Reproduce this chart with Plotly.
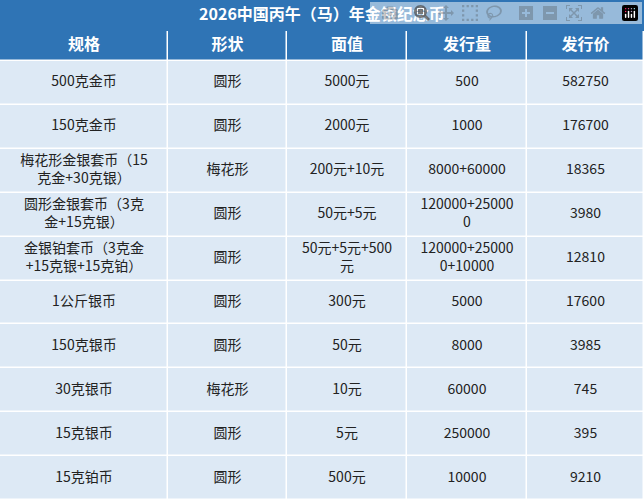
import numpy as np
import plotly.graph_objects as go

title = "2026中国丙午（马）年金银纪念币"
headers = ["规格", "形状", "面值", "发行量", "发行价"]
spec = ["500克金币", "150克金币", "梅花形金银套币（15<br>克金+30克银）", "圆形金银套币（3克<br>金+15克银）",
        "金银铂套币（3克金<br>+15克银+15克铂）", "1公斤银币", "150克银币", "30克银币", "15克银币", "15克铂币"]
shape = ["圆形", "圆形", "梅花形", "圆形", "圆形", "圆形", "圆形", "梅花形", "圆形", "圆形"]
face = ["5000元", "2000元", "200元+10元", "50元+5元", "50元+5元+500<br>元", "300元", "50元", "10元", "5元", "500元"]
issue = ["500", "1000", "8000+60000", "120000+25000<br>0", "120000+25000<br>0+10000", "5000", "8000", "60000", "250000", "10000"]
price = ["582750", "176700", "18365", "3980", "12810", "17600", "3985", "745", "395", "9210"]

blue = "#2f74b5"
light = "#dde9f5"
font = "Noto Sans CJK SC"

# layout of the grid (pixels)
col_w = [168, 119, 120, 120, 117]
x_edges = np.concatenate([[0], np.cumsum(col_w)])
title_h, head_h = 31, 30
n_rows = len(spec)
row_h = (500 - title_h - head_h) / n_rows
y_edges = np.concatenate([[title_h], title_h + head_h + row_h * np.arange(n_rows + 1)])
xc = (x_edges[:-1] + x_edges[1:]) / 2
yc = (y_edges[:-1] + y_edges[1:]) / 2

columns = [spec, shape, face, issue, price]
z = [[1] * 5] + [[0] * 5 for _ in range(n_rows)]

fig = go.Figure()
fig.add_trace(go.Heatmap(x=[0, 644], y=[0, title_h], z=[[1]], colorscale=[[0, blue], [1, blue]],
                         showscale=False, hoverinfo="skip"))
fig.add_trace(go.Heatmap(x=x_edges, y=y_edges, z=z, colorscale=[[0, light], [1, blue]],
                         xgap=1.5, ygap=1.5, showscale=False, hoverinfo="skip"))
fig.add_trace(go.Scatter(x=[322], y=[title_h / 2], mode="text", text=[f"<b>{title}</b>"],
                         textfont=dict(family=font, size=16, color="white"), hoverinfo="skip"))
fig.add_trace(go.Scatter(x=xc, y=[yc[0]] * 5, mode="text", text=[f"<b>{h}</b>" for h in headers],
                         textfont=dict(family=font, size=16, color="white"), hoverinfo="skip"))
for j, col in enumerate(columns):
    fig.add_trace(go.Scatter(x=[xc[j]] * n_rows, y=yc[1:], mode="text", text=col,
                             textfont=dict(family=font, size=14, color="#222222"), hoverinfo="skip"))

fig.update_layout(width=644, height=500, margin=dict(l=0, r=0, t=0, b=0),
                  paper_bgcolor="white", plot_bgcolor="white", showlegend=False,
                  xaxis=dict(range=[0, 644], visible=False),
                  yaxis=dict(range=[500, 0], visible=False))
fig.write_html("out.html", post_script="document.body.style.margin='0';")
